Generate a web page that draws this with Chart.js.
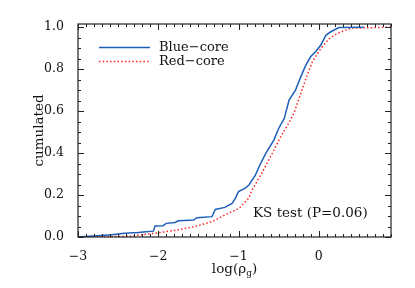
<!DOCTYPE html>
<html lang="en">
<head>
    <meta charset="UTF-8">
    <title>Cumulated distribution</title>
    <script src="https://cdn.jsdelivr.net/npm/chart.js"></script>
    <style>
        html, body { margin: 0; padding: 0; background: #fff; }
        #wrap { width: 415px; height: 288px; }
    </style>
</head>
<body>
    <div id="wrap"><canvas id="chart" width="415" height="288"></canvas></div>

    <script>
        // values
        const blueX = [-3, -2.58, -2.42, -2.25, -2.15, -2.06, -2.04, -1.94, -1.9, -1.79, -1.75, -1.56, -1.52, -1.33, -1.29, -1.17, -1.08, -1.04, -1.0, -0.92, -0.87, -0.79, -0.725, -0.66, -0.56, -0.5, -0.43, -0.37, -0.29, -0.225, -0.16, -0.1, -0.04, 0.025, 0.09, 0.15, 0.25, 0.56];
        const blueY = [0, 0.011, 0.018, 0.021, 0.025, 0.028, 0.053, 0.054, 0.065, 0.069, 0.077, 0.081, 0.092, 0.097, 0.131, 0.141, 0.16, 0.184, 0.216, 0.232, 0.248, 0.295, 0.35, 0.398, 0.462, 0.517, 0.565, 0.652, 0.7, 0.763, 0.82, 0.86, 0.883, 0.915, 0.962, 0.978, 0.998, 1.0];

        const redX = [-3, -2.38, -2.04, -1.75, -1.54, -1.33, -1.17, -1.04, -0.99, -0.875, -0.83, -0.7, -0.58, -0.475, -0.37, -0.31, -0.25, -0.16, -0.08, 0.025, 0.13, 0.23, 0.4, 0.9];
        const redY = [0, 0.003, 0.018, 0.034, 0.05, 0.073, 0.105, 0.128, 0.137, 0.184, 0.224, 0.311, 0.398, 0.477, 0.545, 0.59, 0.655, 0.755, 0.835, 0.898, 0.945, 0.97, 0.995, 1.0];

        const seriesNames = ['Blue\u2212core', 'Red\u2212core'];
        const ksLabel = 'KS test (P=0.06)';
        const xTicks = [-3, -2, -1, 0];
        const yTicks = [0, 0.2, 0.4, 0.6, 0.8, 1.0];

        const FONT = '"DejaVu Serif", serif';
        const BLUE = 'rgb(30,95,185)';
        const RED = 'rgb(255,35,35)';

        function toPoints(xs, ys) {
            return xs.map((x, i) => ({ x: x, y: ys[i] }));
        }

        // box, inward ticks on all sides, legend, KS note and x title
        const decorations = {
            id: 'decorations',
            afterDraw(chart) {
                const ctx = chart.ctx;
                const a = chart.chartArea;
                const xs = chart.scales.x;
                const ys = chart.scales.y;
                ctx.save();
                ctx.strokeStyle = '#222';
                ctx.lineWidth = 1.2;
                ctx.strokeRect(a.left, a.top, a.right - a.left, a.bottom - a.top);

                ctx.lineWidth = 1;
                ctx.beginPath();
                for (let i = -30; i <= 9; i++) {
                    const v = i / 10;
                    const px = Math.round(xs.getPixelForValue(v)) + 0.5;
                    const len = (i % 10 === 0) ? 6 : 3;
                    ctx.moveTo(px, a.bottom); ctx.lineTo(px, a.bottom - len);
                    ctx.moveTo(px, a.top); ctx.lineTo(px, a.top + len);
                }
                for (let i = 0; i <= 20; i++) {
                    const v = i / 20;
                    const py = Math.round(ys.getPixelForValue(v)) + 0.5;
                    const len = (i % 4 === 0) ? 6 : 3;
                    ctx.moveTo(a.left, py); ctx.lineTo(a.left + len, py);
                    ctx.moveTo(a.right, py); ctx.lineTo(a.right - len, py);
                }
                ctx.stroke();

                // legend
                ctx.lineWidth = 1.5;
                ctx.strokeStyle = BLUE;
                ctx.beginPath(); ctx.moveTo(99, 47.5); ctx.lineTo(150, 47.5); ctx.stroke();
                ctx.strokeStyle = RED;
                ctx.setLineDash([1.5, 2.2]);
                ctx.beginPath(); ctx.moveTo(99, 61.5); ctx.lineTo(150, 61.5); ctx.stroke();
                ctx.setLineDash([]);

                ctx.fillStyle = '#111';
                ctx.font = '13px ' + FONT;
                ctx.textBaseline = 'middle';
                ctx.textAlign = 'left';
                ctx.fillText(seriesNames[0], 159, 48);
                ctx.fillText(seriesNames[1], 159, 62);

                ctx.font = '13.5px ' + FONT;
                ctx.fillText(ksLabel, 253, 213);

                // x title log(rho_g)
                ctx.textBaseline = 'alphabetic';
                ctx.font = '13.5px ' + FONT;
                const p1 = 'log(\u03c1';
                const w1 = ctx.measureText(p1).width;
                const w3 = ctx.measureText(')').width;
                ctx.font = '9px ' + FONT;
                const w2 = ctx.measureText('g').width;
                const total = w1 + w2 + w3;
                let x0 = (a.left + a.right) / 2 - total / 2;
                ctx.font = '13.5px ' + FONT;
                ctx.fillText(p1, x0, 273);
                ctx.font = '9px ' + FONT;
                ctx.fillText('g', x0 + w1, 276);
                ctx.font = '13.5px ' + FONT;
                ctx.fillText(')', x0 + w1 + w2, 273);
                ctx.restore();
            }
        };

        new Chart(document.getElementById('chart').getContext('2d'), {
            type: 'scatter',
            data: {
                datasets: [{
                    label: seriesNames[0],
                    data: toPoints(blueX, blueY),
                    showLine: true,
                    borderColor: BLUE,
                    borderWidth: 1.5,
                    pointRadius: 0,
                    tension: 0
                }, {
                    label: seriesNames[1],
                    data: toPoints(redX, redY),
                    showLine: true,
                    borderColor: RED,
                    borderWidth: 1.5,
                    borderDash: [1.5, 2.2],
                    pointRadius: 0,
                    tension: 0
                }]
            },
            options: {
                responsive: false,
                animation: false,
                layout: { padding: { left: 0, right: 24, top: 24, bottom: 0 } },
                plugins: { legend: { display: false }, tooltip: { enabled: false } },
                scales: {
                    x: {
                        type: 'linear',
                        min: -3,
                        max: 0.9,
                        grid: { display: false },
                        border: { display: false },
                        afterFit: s => { s.height = 51; },
                        afterBuildTicks: s => { s.ticks = xTicks.map(v => ({ value: v })); },
                        ticks: {
                            padding: 4,
                            color: '#111',
                            font: { family: FONT, size: 12.5 },
                            callback: v => v < 0 ? '\u2212' + Math.abs(v) : String(v)
                        }
                    },
                    y: {
                        min: 0,
                        max: 1.015,
                        grid: { display: false },
                        border: { display: false },
                        afterFit: s => { s.width = 78; },
                        afterBuildTicks: s => { s.ticks = yTicks.map(v => ({ value: v })); },
                        title: {
                            display: true,
                            text: 'cumulated',
                            color: '#111',
                            font: { family: FONT, size: 13.5 },
                            padding: { top: 31, bottom: 0 }
                        },
                        ticks: {
                            padding: 6,
                            color: '#111',
                            font: { family: FONT, size: 12.5 },
                            callback: v => v.toFixed(1)
                        }
                    }
                }
            },
            plugins: [decorations]
        });
    </script>
</body>
</html>
